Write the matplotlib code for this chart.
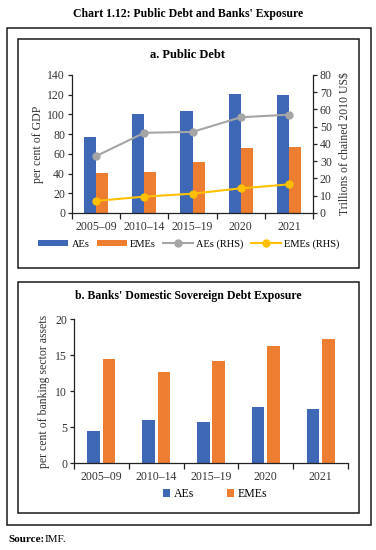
import matplotlib.pyplot as plt
from matplotlib.patches import Rectangle
import numpy as np

plt.rcParams['font.family'] = ['Liberation Serif', 'DejaVu Serif']

categories = ['2005–09', '2010–14', '2015–19', '2020', '2021']

# panel a: public debt
debt_aes = [77, 100.5, 103, 121, 119.5]
debt_emes = [40.5, 42, 52, 66, 67]
gdp_aes = [33, 46.5, 47, 55.5, 57]
gdp_emes = [7, 9.5, 11.2, 14.3, 16.6]

# panel b: banks' sovereign exposure
expo_aes = [4.5, 6.0, 5.7, 7.8, 7.5]
expo_emes = [14.5, 12.7, 14.2, 16.3, 17.2]

blue = '#3E67B6'
orange = '#ED7D31'
gray = '#A5A5A5'
yellow = '#FFC000'
ink = '#333333'

W, H = 376, 550
fig = plt.figure(figsize=(W / 100, H / 100), dpi=100)


def box(x0, y0, x1, y1):
    fig.patches.append(Rectangle((x0 / W, 1 - y1 / H), (x1 - x0) / W, (y1 - y0) / H,
                                 transform=fig.transFigure, fill=False,
                                 edgecolor='#1a1a1a', linewidth=1.1))


box(7, 28, 371, 525)
box(18, 39, 359, 268)
box(18, 282, 359, 513)

fig.text(0.5, 1 - 14 / H, "Chart 1.12: Public Debt and Banks' Exposure",
         ha='center', va='center', fontsize=8.5, fontweight='bold')
fig.text(188 / W, 1 - 55 / H, "a. Public Debt", ha='center', va='center',
         fontsize=9, fontweight='bold')
fig.text(188 / W, 1 - 296 / H, "b. Banks' Domestic Sovereign Debt Exposure",
         ha='center', va='center', fontsize=8.5, fontweight='bold')
fig.text(8 / W, 1 - 540 / H, "Source:", ha='left', va='center',
         fontsize=8, fontweight='bold')
fig.text(45 / W, 1 - 540 / H, "IMF.", ha='left', va='center', fontsize=8)

x = np.arange(len(categories))
fs = 8.5


def style_axis(ax):
    for s in ['top', 'right']:
        ax.spines[s].set_visible(False)
    for s in ['left', 'bottom']:
        ax.spines[s].set_color('#222222')
        ax.spines[s].set_linewidth(0.9)
    ax.set_xlim(-0.5, len(categories) - 0.5)
    ax.set_xticks(x)
    ax.set_xticklabels(categories, fontsize=fs, color=ink)
    ax.tick_params(axis='x', which='major', length=0, pad=6)
    ax.set_xticks(np.arange(-0.5, len(categories)), minor=True)
    ax.tick_params(axis='x', which='minor', length=4, width=0.9, color='#222222')
    ax.tick_params(axis='y', labelsize=fs, labelcolor=ink, length=3, width=0.9,
                   color='#222222', pad=2)


# ---- panel a
ax1 = fig.add_axes([72 / W, 1 - 213 / H, 241 / W, 138 / H])
style_axis(ax1)
ax1.bar(x - 0.125, debt_aes, width=0.25, color=blue, label='AEs', zorder=2)
ax1.bar(x + 0.125, debt_emes, width=0.25, color=orange, label='EMEs', zorder=2)
ax1.set_ylim(0, 140)
ax1.set_yticks(range(0, 141, 20))
ax1.set_ylabel('per cent of GDP', fontsize=fs, color=ink, labelpad=2)

ax2 = ax1.twinx()
ax2.spines['top'].set_visible(False)
ax2.spines['left'].set_visible(False)
ax2.spines['bottom'].set_visible(False)
ax2.spines['right'].set_color('#222222')
ax2.spines['right'].set_linewidth(0.9)
ax2.plot(x, gdp_aes, color=gray, lw=1.5, marker='o', ms=5, label='AEs (RHS)', zorder=3)
ax2.plot(x, gdp_emes, color=yellow, lw=1.5, marker='o', ms=5, label='EMEs (RHS)', zorder=3)
ax2.set_ylim(0, 80)
ax2.set_yticks(range(0, 81, 10))
ax2.tick_params(axis='y', labelsize=fs, labelcolor=ink, length=3, width=0.9,
                color='#222222', pad=2)
ax2.set_ylabel('Trillions of chained 2010 US$', fontsize=fs, color=ink, labelpad=5)

h1, l1 = ax1.get_legend_handles_labels()
h2, l2 = ax2.get_legend_handles_labels()
fig.legend(h1 + h2, l1 + l2, loc='center', bbox_to_anchor=(189 / W, 1 - 244 / H),
           ncol=4, frameon=False, fontsize=7.5, handlelength=2.9, handleheight=0.55,
           handletextpad=0.3, columnspacing=0.7)

# ---- panel b
ax3 = fig.add_axes([74 / W, 1 - 463 / H, 274 / W, 144 / H])
style_axis(ax3)
ax3.bar(x - 0.14, expo_aes, width=0.23, color=blue, label='AEs', zorder=2)
ax3.bar(x + 0.14, expo_emes, width=0.23, color=orange, label='EMEs', zorder=2)
ax3.set_ylim(0, 20)
ax3.set_yticks(range(0, 21, 5))
ax3.set_ylabel('per cent of banking sector assets', fontsize=fs, color=ink, labelpad=4)
ax3.legend(loc='center', bbox_to_anchor=(215 / W, 1 - 494 / H),
           bbox_transform=fig.transFigure, ncol=2, frameon=False, fontsize=fs,
           handlelength=0.6, handleheight=0.6, handletextpad=0.3, columnspacing=2.8)

fig.savefig('out.png', dpi=100)
